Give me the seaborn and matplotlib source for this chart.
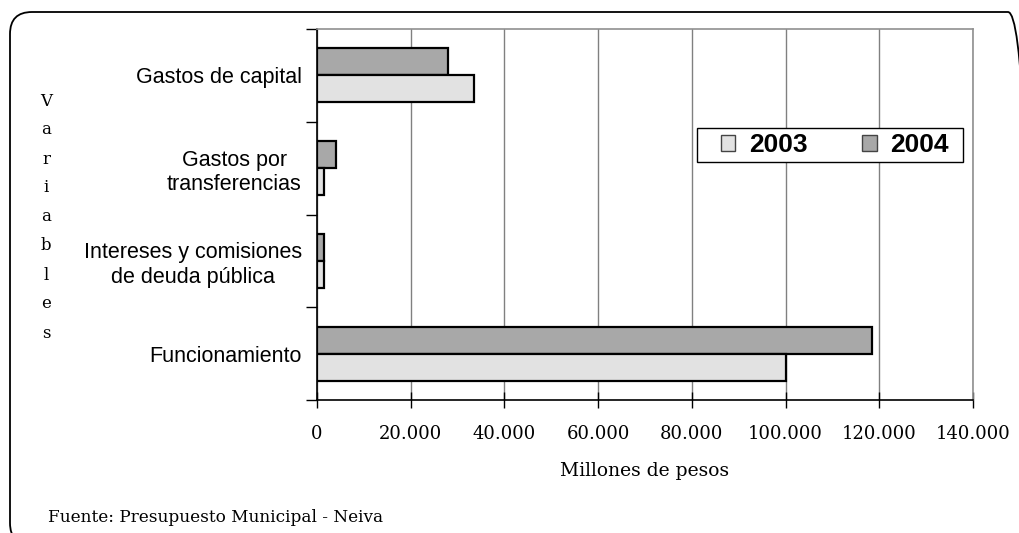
import matplotlib
matplotlib.use('Agg')
import matplotlib.pyplot as plt
import seaborn as sns
import pandas as pd
from matplotlib.patches import FancyBboxPatch, Patch, Rectangle
from matplotlib.transforms import IdentityTransform

categories = ["Gastos de capital", "Gastos por\ntransferencias",
              "Intereses y comisiones\nde deuda pública", "Funcionamiento"]
values_2003 = [33400, 1400, 1400, 100000]
values_2004 = [28000, 4000, 1400, 118400]
years = ["2003", "2004"]
xticks = [0, 20000, 40000, 60000, 80000, 100000, 120000, 140000]
xtick_labels = ["0", "20.000", "40.000", "60.000", "80.000", "100.000", "120.000", "140.000"]
colors = {"2003": "#e2e2e2", "2004": "#a8a8a8"}

rows = []
for c, v3, v4 in zip(categories, values_2003, values_2004):
    rows.append({"cat": c, "year": "2003", "val": v3})
    rows.append({"cat": c, "year": "2004", "val": v4})
df = pd.DataFrame(rows)

sns.set_theme(style="white")
plt.rcParams['font.family'] = ['Liberation Sans', 'DejaVu Sans']
plt.rcParams['text.color'] = 'black'
plt.rcParams['axes.labelcolor'] = 'black'
plt.rcParams['xtick.color'] = 'black'
plt.rcParams['ytick.color'] = 'black'
SERIF = "DejaVu Serif"

fig = plt.figure(figsize=(10.19, 5.33), dpi=100)
ax = fig.add_axes([317/1019, 133/533, 656/1019, 371/533])

sns.barplot(data=df, y="cat", x="val", hue="year", hue_order=["2004", "2003"],
            order=categories, palette=colors, width=0.58, edgecolor="black",
            linewidth=1.6, orient="h", ax=ax, legend=False, saturation=1)

ax.set_xlim(0, 140000)
ax.set_ylim(3.5, -0.5)
ax.set_xticks(xticks)
ax.set_xticklabels(xtick_labels, family=SERIF, fontsize=13)
ax.set_axisbelow(True)
ax.xaxis.grid(True, color="#808080", lw=1)
ax.yaxis.grid(False)

for s in ["top", "right"]:
    ax.spines[s].set_color("#909090")
    ax.spines[s].set_linewidth(1.2)
for s in ["left", "bottom"]:
    ax.spines[s].set_color("black")
    ax.spines[s].set_linewidth(1.2)

ax.tick_params(axis="x", which="major", direction="inout", length=12, width=1,
               color="black", pad=12, bottom=True)
ax.tick_params(axis="y", which="major", length=0, pad=11, labelsize=15.5)
ax.set_yticks([-0.5, 0.5, 1.5, 2.5, 3.5], minor=True)
ax.tick_params(axis="y", which="minor", length=8, width=1, direction="out",
               color="black", left=True)
for lbl in ax.get_yticklabels():
    lbl.set_multialignment("center")
    lbl.set_color("black")
for lbl in ax.get_xticklabels():
    lbl.set_color("black")

ax.set_ylabel("")
ax.set_xlabel("Millones de pesos", family=SERIF, fontsize=13.5,
              labelpad=14, color="black")

# legend box (frame drawn separately to match the original's padding)
frame = Rectangle(((697-317)/656, (400-162)/371), 266/656, 34/371,
                  transform=ax.transAxes, facecolor="white", edgecolor="black",
                  linewidth=1, zorder=4, clip_on=False)
ax.add_patch(frame)
handles = [Patch(facecolor=colors[y], edgecolor="#444444", linewidth=1) for y in years]
leg = ax.legend(handles, years, loc="center",
                bbox_to_anchor=((835-317)/656, (400-145)/371),
                ncol=2, frameon=False, borderpad=0, borderaxespad=0,
                prop={"family": "Liberation Sans", "weight": "bold", "size": 19},
                handlelength=0.55, handleheight=0.55, handletextpad=0.53,
                columnspacing=2.05, labelcolor="black")
leg.set_zorder(5)

# vertical "Variables" label
word = "Variables"
for i, ch in enumerate(word):
    fig.text(46/1019, 1 - (101 + i * 29) / 533, ch, family=SERIF,
             fontsize=12, ha="center", va="center", color="black")

fig.text(48/1019, 15/533, "Fuente: Presupuesto Municipal - Neiva",
         family=SERIF, fontsize=12.2, ha="left", va="center", color="black")

border = FancyBboxPatch((10, -12), 1020, 533, boxstyle="round,pad=0,rounding_size=22",
                        transform=IdentityTransform(), facecolor="none",
                        edgecolor="black", linewidth=1.3)
fig.patches.append(border)

fig.savefig("out.png", dpi=100)
